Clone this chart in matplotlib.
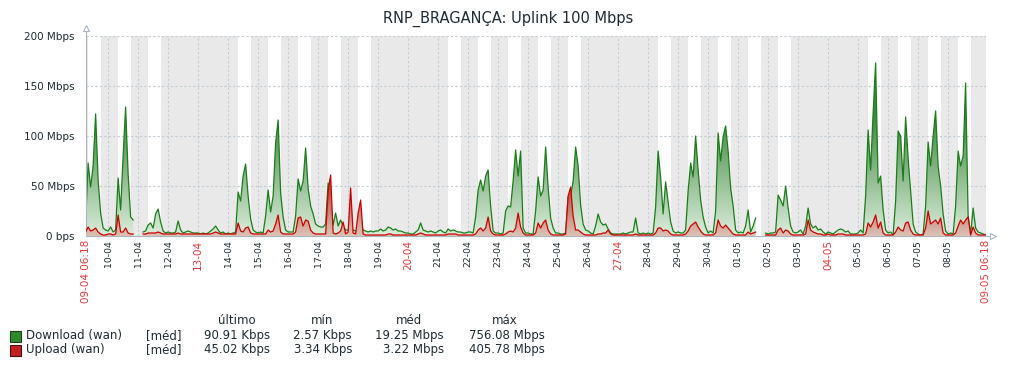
import numpy as np
import pandas as pd
import matplotlib
matplotlib.use('Agg')
import matplotlib.pyplot as plt
import matplotlib.dates as mdates
from matplotlib.path import Path
from matplotlib.patches import Rectangle

nan = np.nan

# 2-hour averages (Mbps), first sample 09-04 06:00, one row per day
download = [
    14, 73, 49, 70, 122, 56, 23, 8, 6,                    # 09-04 (06h..)
    5, 9, 4, 6, 58, 26, 80, 129, 62, 19, 16, nan,         # 10-04
    nan, nan, 4, 5, 11, 13, 8, 22, 27, 14, 5, 3,          # 11-04
    4, 3, 3, 4, 15, 6, 3, 4, 5, 4, 3, 3,                  # 12-04
    3, 2, 3, 2, 3, 5, 7, 10, 6, 3, 4, 2,                  # 13-04
    3, 2, 3, 4, 44, 35, 60, 72, 40, 17, 6, 4,             # 14-04
    3, 4, 3, 20, 46, 24, 40, 93, 116, 43, 19, 6,          # 15-04
    4, 4, 4, 20, 57, 45, 55, 88, 48, 30, 22, 12,          # 16-04
    10, 9, 9, 12, 53, 33, 11, 23, 10, 16, 10, 6,          # 17-04
    6, 8, 6, 5, 7, 12, 6, 5, 4, 5, 4, 5,                  # 18-04
    5, 7, 5, 6, 9, 8, 6, 7, 5, 5, 4, 3,                   # 19-04
    3, 2, 2, 4, 6, 13, 6, 5, 4, 5, 4, 3,                  # 20-04
    5, 6, 4, 3, 7, 5, 6, 5, 4, 4, 3, 3,                   # 21-04
    4, 4, 3, 19, 46, 56, 45, 60, 66, 30, 5, 3,            # 22-04
    3, 2, 3, 25, 30, 29, 55, 86, 60, 85, 8, 3,            # 23-04
    3, 2, 2, 25, 59, 40, 46, 89, 49, 18, 8, 3,            # 24-04
    3, 2, 2, 3, 39, 40, 55, 89, 70, 31, 12, 6,            # 25-04
    5, 3, 2, 10, 22, 14, 11, 12, 7, 3, 2, 2,              # 26-04
    2, 2, 3, 2, 3, 4, 4, 18, 3, 2, 3, 2,                  # 27-04
    3, 2, 3, 29, 85, 59, 22, 54, 34, 14, 5, 3,            # 28-04
    4, 3, 3, 6, 45, 73, 59, 100, 66, 36, 19, 9,           # 29-04
    3, 5, 3, 25, 103, 75, 99, 110, 85, 48, 30, 6,         # 30-04
    3, 4, 3, 10, 26, 4, 10, 18, nan, nan, nan, 3,         # 01-05
    2, 3, 3, 4, 41, 36, 30, 50, 28, 10, 4, 3,             # 02-05
    4, 6, 2, 10, 28, 12, 8, 10, 6, 7, 4, 2,               # 03-05
    4, 3, 2, 4, 6, 7, 6, 4, 5, 2, 2, 2,                   # 04-05
    3, 6, 3, 40, 106, 66, 123, 173, 53, 60, 26, 6,        # 05-05
    3, 4, 1, 35, 105, 100, 55, 119, 78, 45, 12, 4,        # 06-05
    2, 1, 2, 30, 94, 70, 100, 125, 70, 50, 22, 5,         # 07-05
    2, 3, 2, 30, 85, 70, 80, 153, 20, 2, 28, 8,           # 08-05
    4, 3, 2, 1,                                           # 09-05
]

upload = [
    4, 9, 5, 6, 8, 4, 2, 1, 1,
    2, 2, 1, 2, 21, 4, 4, 8, 3, 2, 2, nan,
    nan, nan, 2, 2, 3, 3, 3, 3, 4, 3, 2, 2,
    2, 2, 2, 2, 3, 2, 2, 2, 2, 2, 2, 2,
    2, 2, 2, 2, 2, 2, 3, 4, 3, 2, 2, 2,
    2, 2, 2, 2, 13, 5, 4, 8, 9, 3, 2, 2,
    2, 2, 2, 2, 6, 4, 5, 12, 21, 4, 2, 2,
    2, 2, 2, 4, 18, 19, 10, 16, 15, 6, 3, 2,
    2, 2, 2, 2, 45, 61, 3, 2, 3, 5, 14, 2,
    4, 48, 3, 2, 23, 36, 2, 1, 1, 1, 1, 1,
    1, 1, 1, 1, 2, 2, 1, 1, 1, 1, 1, 1,
    1, 1, 1, 1, 2, 3, 2, 1, 1, 1, 1, 1,
    1, 1, 1, 1, 2, 2, 2, 2, 1, 1, 1, 1,
    1, 1, 1, 2, 6, 8, 5, 8, 19, 5, 2, 1,
    1, 1, 1, 2, 4, 5, 4, 8, 23, 9, 3, 1,
    1, 1, 1, 3, 13, 8, 13, 16, 6, 2, 1, 1,
    1, 1, 1, 2, 40, 49, 20, 6, 6, 4, 2, 1,
    1, 1, 1, 1, 2, 2, 3, 3, 6, 2, 1, 1,
    1, 1, 1, 1, 1, 1, 1, 2, 1, 1, 1, 1,
    1, 1, 1, 3, 8, 8, 5, 6, 5, 2, 1, 1,
    1, 1, 1, 2, 5, 10, 12, 14, 9, 5, 2, 1,
    1, 1, 1, 3, 16, 10, 8, 11, 8, 5, 2, 1,
    1, 1, 1, 1, 4, 2, 3, 4, nan, nan, nan, 1,
    1, 1, 1, 1, 6, 8, 3, 6, 5, 2, 1, 1,
    1, 1, 1, 2, 16, 6, 4, 3, 2, 2, 1, 1,
    2, 1, 1, 1, 2, 2, 2, 1, 1, 1, 1, 1,
    1, 1, 1, 2, 13, 9, 14, 21, 8, 14, 3, 1,
    1, 1, 1, 4, 9, 6, 5, 13, 14, 6, 2, 1,
    1, 1, 1, 8, 25, 12, 14, 16, 12, 18, 3, 1,
    1, 1, 1, 3, 10, 16, 12, 16, 19, 1, 9, 3,
    1, 1, 1, 1,
]

t_first = '2025-04-09 06:00'
t_start = pd.Timestamp('2025-04-09 06:18')
t_end = pd.Timestamp('2025-05-09 06:18')
yticks = [0, 50, 100, 150, 200]
ylabels = ['0 bps', '50 Mbps', '100 Mbps', '150 Mbps', '200 Mbps']

legend_names = ['Download (wan)', 'Upload (wan)']
legend_cols = ['último', 'mín', 'méd', 'máx']
legend_vals = [['90.91 Kbps', '2.57 Kbps', '19.25 Mbps', '756.08 Mbps'],
               ['45.02 Kbps', '3.34 Kbps', '3.22 Mbps', '405.78 Mbps']]

W, H = 1016, 368
fig = plt.figure(figsize=(W / 100, H / 100), dpi=100)
ax = fig.add_axes([86 / W, 132 / H, 900 / W, 200 / H])

times = pd.date_range(t_first, periods=len(download), freq='2h')
x = mdates.date2num(times)
x0, x1 = mdates.date2num(t_start), mdates.date2num(t_end)

# working time shading (Mon-Fri 08-18 white, rest gray)
ax.set_facecolor('#e9e9e9')
for d in pd.date_range('2025-04-09', '2025-05-09', freq='D'):
    if d.weekday() < 5:
        ax.axvspan(mdates.date2num(d + pd.Timedelta(hours=8)),
                   mdates.date2num(d + pd.Timedelta(hours=18)),
                   color='white', lw=0, zorder=0.2)


def gradient_fill(y, top, bottom, full, z):
    poly = ax.fill_between(x, 0, y, color='none', lw=0)
    clip = Path.make_compound_path(*poly.get_paths())
    t = np.clip(np.linspace(0, 200, 300) / full, 0, 1)[:, None]
    rgb = np.array(bottom)[None, :] * (1 - t) + np.array(top)[None, :] * t
    im = ax.imshow(rgb[:, None, :], extent=[x0, x1, 0, 200], origin='lower',
                   aspect='auto', zorder=z, interpolation='bilinear')
    im.set_clip_path(clip, transform=ax.transData)


gradient_fill(np.array(download, float), (0.25, 0.53, 0.25), (0.86, 0.93, 0.86), 120, 2)
ax.plot(x, download, color='#1a7d1a', lw=0.9, zorder=2.5)
gradient_fill(np.array(upload, float), (0.72, 0.33, 0.27), (0.86, 0.76, 0.71), 45, 2.6)
ax.plot(x, upload, color='#cc0000', lw=0.9, zorder=2.7)

ax.set_xlim(x0, x1)
ax.set_ylim(0, 200)

# ticks
days = pd.date_range('2025-04-10', '2025-05-08', freq='D')
tick_pos = [x0] + list(mdates.date2num(days)) + [x1]
tick_lab = [t_start.strftime('%d-%m %H:%M')] + [d.strftime('%d-%m') for d in days] + [t_end.strftime('%d-%m %H:%M')]
ax.set_xticks(tick_pos)
ax.set_xticklabels(tick_lab, rotation=90, va='top', ha='center')
for lab, d in zip(ax.get_xticklabels()[1:-1], days):
    if d.weekday() == 6:
        lab.set_color('#e8393a')
        lab.set_fontsize(7.5)
    else:
        lab.set_color('#1f2c33')
        lab.set_fontsize(6.7)
for lab in (ax.get_xticklabels()[0], ax.get_xticklabels()[-1]):
    lab.set_color('#e8393a')
    lab.set_fontsize(7.5)
ax.tick_params(axis='x', length=0, pad=3)
ax.set_yticks(yticks)
ax.set_yticklabels(ylabels, fontsize=7.5, color='#1f2c33')
ax.tick_params(axis='y', length=0, pad=8)

ax.set_axisbelow('line')
ax.grid(True, color='#c2ccd5', linestyle=(0, (2, 2)), lw=0.8)

for s in ('top', 'right'):
    ax.spines[s].set_visible(False)
axis_col = '#aab5bf'
ax.spines['left'].set_color(axis_col)
ax.spines['bottom'].set_color(axis_col)
ax.plot([0, 0], [1, 1.035], transform=ax.transAxes, color=axis_col, lw=0.8, clip_on=False)
ax.plot([1, 1.006], [0, 0], transform=ax.transAxes, color=axis_col, lw=0.8, clip_on=False)
ax.plot(0, 1.04, marker='^', ms=5, mfc='white', mec=axis_col, mew=0.8,
        transform=ax.transAxes, clip_on=False)
ax.plot(1.008, 0, marker='>', ms=5, mfc='white', mec=axis_col, mew=0.8,
        transform=ax.transAxes, clip_on=False)

fig.text(0.5, 1 - 19 / H, 'RNP_BRAGANÇA: Uplink 100 Mbps', ha='center', va='center',
         fontsize=10.5, color='#1f2c33')

# legend
txt = '#1f2c33'
col_centers = [237, 322, 409, 505]
col_rights = [270, 352, 444, 545]
for c, cx in zip(legend_cols, col_centers):
    fig.text(cx / W, 1 - 321 / H, c, ha='center', va='center', fontsize=8.5, color=txt)
sq_colors = [('#2f8a2f', '#1f3f1f'), ('#c41f1f', '#4a1010')]
for i, (name, vals) in enumerate(zip(legend_names, legend_vals)):
    yc = 336 + 14 * i
    fig.patches.append(Rectangle((10 / W, 1 - (yc + 5.5) / H), 11 / W, 11 / H,
                                 transform=fig.transFigure, fc=sq_colors[i][0],
                                 ec=sq_colors[i][1], lw=0.8))
    fig.text(26 / W, 1 - yc / H, name, ha='left', va='center', fontsize=8.5, color=txt)
    fig.text(146 / W, 1 - yc / H, '[méd]', ha='left', va='center', fontsize=8.5, color=txt)
    for v, rx in zip(vals, col_rights):
        fig.text(rx / W, 1 - yc / H, v, ha='right', va='center', fontsize=8.5, color=txt)

fig.savefig('out.png', dpi=100)
